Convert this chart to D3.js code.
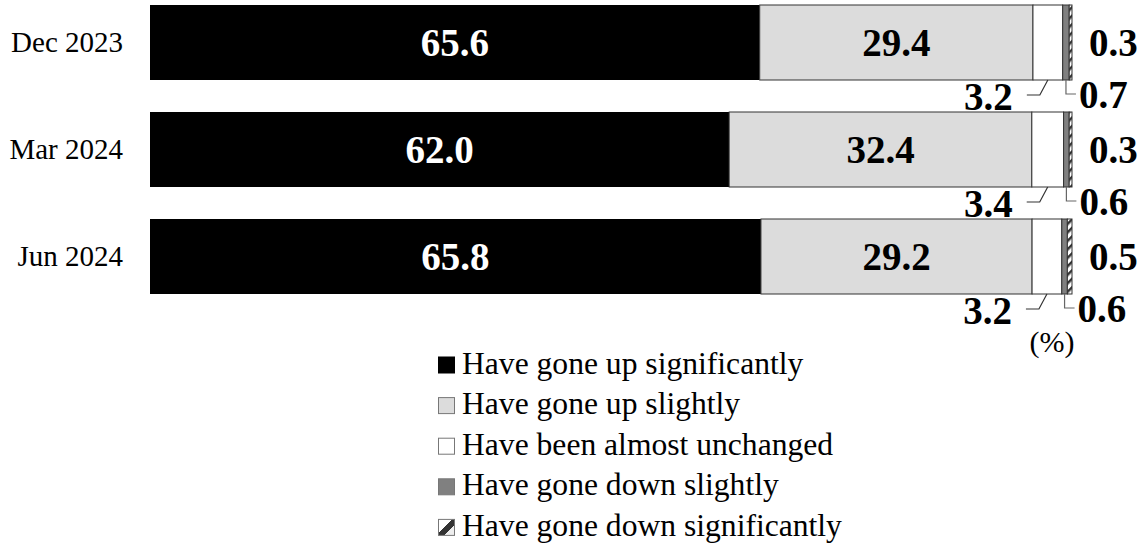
<!DOCTYPE html>
<html>
<head>
<meta charset="utf-8">
<script src="https://cdn.jsdelivr.net/npm/d3@7/dist/d3.min.js"></script>
<style>
  html, body { margin: 0; padding: 0; background: #fff; }
  svg { display: block; }
  text { font-family: "Liberation Serif", "Times New Roman", serif; }
</style>
</head>
<body>
<svg id="chart" width="1146" height="546"></svg>
<script>
// ---- data ----
const categories = ["Dec 2023", "Mar 2024", "Jun 2024"];
const seriesNames = [
  "Have gone up significantly",
  "Have gone up slightly",
  "Have been almost unchanged",
  "Have gone down slightly",
  "Have gone down significantly"
];
const upSignificantly   = [65.6, 62.0, 65.8];
const upSlightly        = [29.4, 32.4, 29.2];
const almostUnchanged   = [3.2, 3.4, 3.2];
const downSlightly      = [0.7, 0.6, 0.6];
const downSignificantly = [0.3, 0.3, 0.5];
const unitLabel = "(%)";

// ---- build table ----
const seriesArrays = [upSignificantly, upSlightly, almostUnchanged, downSlightly, downSignificantly];
const keys = seriesNames;
const table = categories.map((c, i) => {
  const row = { category: c };
  keys.forEach((k, j) => row[k] = seriesArrays[j][i]);
  return row;
});

const svg = d3.select("#chart");

// pattern for "down significantly"
const defs = svg.append("defs");
const pat = defs.append("pattern")
  .attr("id", "hatch")
  .attr("patternUnits", "userSpaceOnUse")
  .attr("width", 6).attr("height", 6)
  .attr("patternTransform", "rotate(45)");
pat.append("rect").attr("width", 6).attr("height", 6).attr("fill", "#fff");
pat.append("rect").attr("x", 0).attr("width", 2.5).attr("height", 6).attr("fill", "#333");

const legendHatch = defs.append("linearGradient")
  .attr("id", "legHatch").attr("x1", "0").attr("y1", "0").attr("x2", "1").attr("y2", "1");
[[0, "#fff"], [0.42, "#fff"], [0.42, "#333"], [0.68, "#333"], [0.68, "#eee"], [1, "#eee"]]
  .forEach(([o, c]) => legendHatch.append("stop").attr("offset", o).attr("stop-color", c));

const fills = ["#000000", "#dcdcdc", "#ffffff", "#808080", "url(#hatch)"];
const legendFills = ["#000000", "#dcdcdc", "#ffffff", "#808080", "url(#legHatch)"];

// ---- scales ----
const x = d3.scaleLinear().domain([0, 1]).range([150, 1072]);
const y = d3.scaleBand().domain(categories).range([5, 294]).paddingInner(32 / 107).paddingOuter(0);

const stack = d3.stack().keys(keys).offset(d3.stackOffsetExpand);
const stacked = stack(table);

// ---- bars ----
const layers = svg.append("g").selectAll("g")
  .data(stacked).join("g")
  .attr("fill", (d, i) => fills[i]);

layers.selectAll("rect")
  .data(d => d.map(v => ({ v, key: d.key, idx: d.index })))
  .join("rect")
  .attr("x", d => x(d.v[0]))
  .attr("y", d => y(d.v.data.category))
  .attr("width", d => Math.max(0, x(d.v[1]) - x(d.v[0])))
  .attr("height", y.bandwidth())
  .attr("stroke", d => d.idx === 0 ? "none" : "#333")
  .attr("stroke-width", 1);

// ---- category labels ----
svg.append("g").selectAll("text")
  .data(categories).join("text")
  .attr("x", 123)
  .attr("y", d => y(d) + y.bandwidth() / 2 + 9.6)
  .attr("text-anchor", "end")
  .attr("font-size", 29)
  .attr("fill", "#000")
  .text(d => d);

// ---- value labels ----
const fsV = 39;
const digitOff = 0.34 * fsV;
const labels = svg.append("g").attr("font-weight", "bold").attr("font-size", fsV);

// inside labels for first two series
[0, 1].forEach(si => {
  labels.append("g").selectAll("text")
    .data(stacked[si]).join("text")
    .attr("x", d => (x(d[0]) + x(d[1])) / 2)
    .attr("y", d => y(d.data.category) + y.bandwidth() / 2 + digitOff)
    .attr("text-anchor", "middle")
    .attr("fill", si === 0 ? "#fff" : "#000")
    .text(d => d3.format(".1f")(d.data[keys[si]]));
});

// "almost unchanged": label below-left with leader
const leaders = svg.append("g").attr("fill", "none").attr("stroke-width", 1.2);
stacked[2].forEach(d => {
  const cx = (x(d[0]) + x(d[1])) / 2;
  const bottom = y(d.data.category) + y.bandwidth();
  leaders.append("path")
    .attr("stroke", "#333")
    .attr("d", `M${cx},${bottom} L${cx - 8},${bottom + 15} L${cx - 21},${bottom + 15}`);
  labels.append("text")
    .attr("x", cx - 35)
    .attr("y", bottom + 17 + digitOff)
    .attr("text-anchor", "end")
    .attr("fill", "#000")
    .text(d3.format(".1f")(d.data[keys[2]]));
});

// "down slightly": label below-right with leader
stacked[3].forEach(d => {
  const cx = (x(d[0]) + x(d[1])) / 2;
  const bottom = y(d.data.category) + y.bandwidth();
  leaders.append("path")
    .attr("stroke", "#666")
    .attr("d", `M${cx},${bottom} L${cx},${bottom + 14} L${cx + 10},${bottom + 14}`);
  labels.append("text")
    .attr("x", cx + 13)
    .attr("y", bottom + 15 + digitOff)
    .attr("text-anchor", "start")
    .attr("fill", "#000")
    .text(d3.format(".1f")(d.data[keys[3]]));
});

// "down significantly": label to the right of bar end
stacked[4].forEach(d => {
  labels.append("text")
    .attr("x", x(d[1]) + 17)
    .attr("y", y(d.data.category) + y.bandwidth() / 2 + digitOff)
    .attr("text-anchor", "start")
    .attr("fill", "#000")
    .text(d3.format(".1f")(d.data[keys[4]]));
});

// unit
svg.append("text")
  .attr("x", 1052).attr("y", 352)
  .attr("text-anchor", "middle")
  .attr("font-size", 30)
  .text(unitLabel);

// ---- legend ----
const legend = svg.append("g");
const legRows = legend.selectAll("g")
  .data(seriesNames).join("g")
  .attr("transform", (d, i) => `translate(438, ${365 + i * 40.6})`);
legRows.append("rect")
  .attr("x", 0.5).attr("y", -8).attr("width", 16).attr("height", 16)
  .attr("fill", (d, i) => legendFills[i])
  .attr("stroke", (d, i) => i === 0 ? "#000" : "#777")
  .attr("stroke-width", 1);
legRows.append("text")
  .attr("x", 24).attr("y", 8.5)
  .attr("font-size", 31.6)
  .text(d => d);
</script>
</body>
</html>
